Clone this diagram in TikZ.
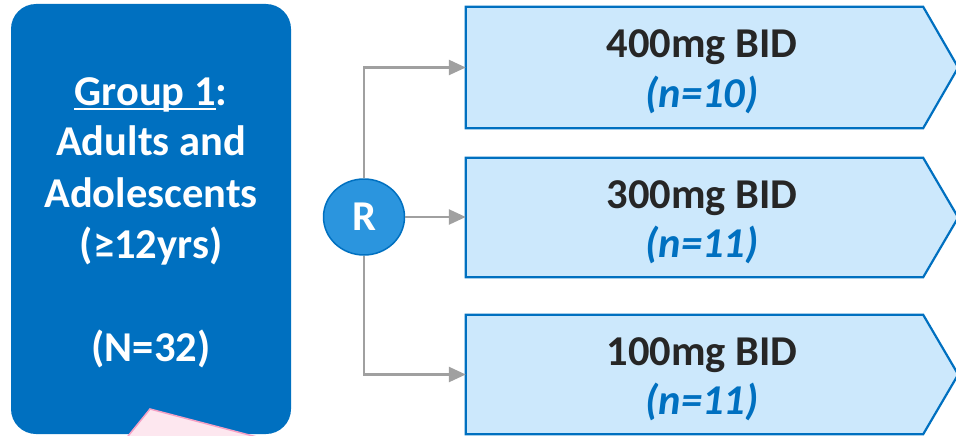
\documentclass[tikz,border=0pt]{standalone}
\usepackage{fontspec}
\setmainfont{Carlito}
\usetikzlibrary{arrows.meta,calc,shapes.geometric}

\definecolor{grpblue}{HTML}{0070C0}
\definecolor{armfill}{HTML}{CCE8FC}
\definecolor{rfill}{HTML}{2B95DE}
\definecolor{conngray}{HTML}{A0A0A0}
\definecolor{inktxt}{HTML}{262626}
\definecolor{pinkfill}{HTML}{FDE7EF}
\definecolor{pinkedge}{HTML}{F4A0C4}

\newcommand\bigfont{\fontsize{42.5}{49}\selectfont\bfseries}
% underline at a fixed offset below the baseline
\newcommand\grpul[1]{\setbox0\hbox{#1}\rlap{\rule[-5pt]{\wd0}{2pt}}\box0}

\begin{document}
\begin{tikzpicture}[x=1pt,y=-1pt,
  grpbox/.style={rectangle, rounded corners=25pt, fill=grpblue,
    minimum width=280pt, minimum height=430pt, inner sep=0pt},
  armslot/.style={rectangle, minimum width=457pt, inner sep=0pt},
  armshape/.style={fill=armfill, draw=grpblue, line width=2.2pt, line join=miter},
  dosetxt/.style={anchor=base, inner sep=0pt, font=\bigfont, text=inktxt},
  counttxt/.style={anchor=base, inner sep=0pt, font=\bigfont\itshape, text=grpblue},
  grptxt/.style={anchor=base, inner sep=0pt, font=\bigfont, text=white},
  rnode/.style={ellipse, minimum width=81pt, minimum height=76pt, fill=rfill,
    draw=grpblue, line width=1.5pt, inner sep=0pt, text=white, font=\bigfont},
  conn/.style={draw=conngray, line width=2.5pt, -{Triangle[length=17pt,width=15pt]}}
]
\useasboundingbox (0,0) rectangle (956,436);
\clip (0,0) rectangle (956,436);

% group panel
\node[grpbox] (grp) at (151,219) {};
\filldraw[fill=pinkfill, draw=pinkedge, line width=1.5pt]
  (120,446) -- (150,409) -- (295,447) -- cycle;

\node[grptxt] (gl1) at (151,105) {\grpul{Group 1}:};
\node[grptxt] (gl2) at (151,155) {Adults and};
\node[grptxt] (gl3) at (151,207) {Adolescents};
\node[grptxt] (gl4) at (151,258) {(≥12yrs)};
\node[grptxt] (gl5) at (151,361) {(N=32)};

% randomisation
\node[rnode] (rz) at (364,217) {R};

% dose arms
\node[armslot, minimum height=121pt] (a1) at (694.5,67.5) {};
\path[armshape] (a1.north west) -- (a1.north east) -- ($(a1.east)+(35,0)$)
  -- (a1.south east) -- (a1.south west) -- cycle;
\node[dosetxt] (d1) at (702,58) {400mg BID};
\node[counttxt] (c1) at (702,107) {(n=10)};

\node[armslot, minimum height=119pt] (a2) at (694.5,217.5) {};
\path[armshape] (a2.north west) -- (a2.north east) -- ($(a2.east)+(35,0)$)
  -- (a2.south east) -- (a2.south west) -- cycle;
\node[dosetxt] (d2) at (702,208) {300mg BID};
\node[counttxt] (c2) at (702,257) {(n=11)};

\node[armslot, minimum height=119pt] (a3) at (694.5,374.5) {};
\path[armshape] (a3.north west) -- (a3.north east) -- ($(a3.east)+(35,0)$)
  -- (a3.south east) -- (a3.south west) -- cycle;
\node[dosetxt] (d3) at (702,365) {100mg BID};
\node[counttxt] (c3) at (702,414) {(n=11)};

% connectors
\draw[conn] (rz.north) |- (a1.west);
\draw[conn] (rz.east) -- (rz.east -| a2.west);
\draw[conn] (rz.south) |- (a3.west);
\end{tikzpicture}
\end{document}
